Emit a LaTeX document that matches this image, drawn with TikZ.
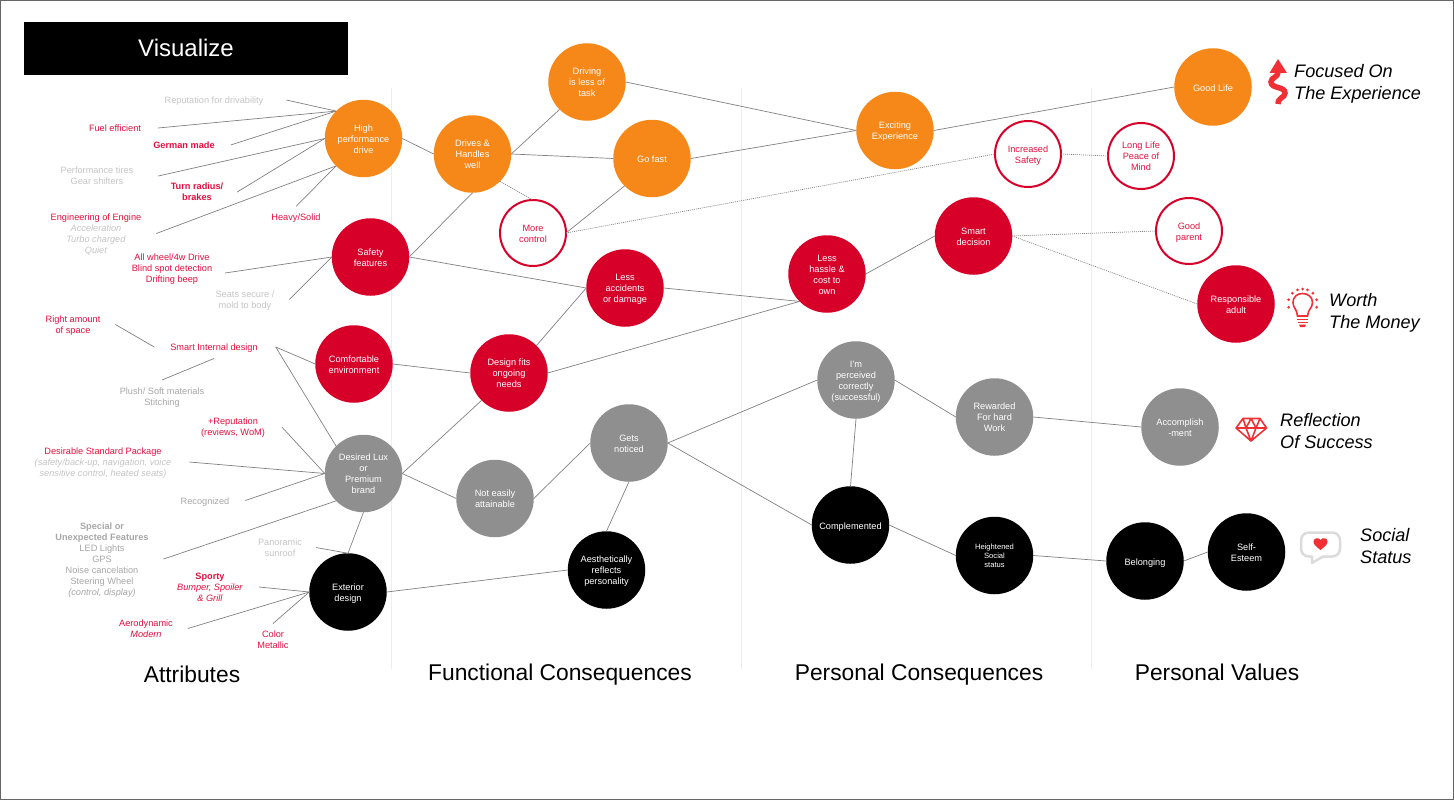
\documentclass[tikz,border=0pt]{standalone}
\usepackage{fontspec}
\setmainfont{Liberation Sans}
\usetikzlibrary{positioning}

\definecolor{cOrange}{HTML}{F58818}
\definecolor{cRed}{HTML}{D70029}
\definecolor{cGrey}{HTML}{8F8F8F}
\definecolor{cPale}{HTML}{C4C4C4}
\definecolor{cMid}{HTML}{A6A6A6}
\definecolor{cLabel}{HTML}{E0103C}
\definecolor{cIcon}{HTML}{F03034}
\definecolor{cLine}{HTML}{808080}

\newsavebox{\nudgebox}

\begin{document}
\begin{tikzpicture}[
    x=1pt, y=-1pt, auto=false,
    nudge/.style={execute at begin node={\setbox\nudgebox=\hbox\bgroup\strut},
        execute at end node={\strut\egroup\raisebox{-#1}[\ht\nudgebox][\dp\nudgebox]{\copy\nudgebox}}},
    bubble/.style={circle, minimum size=77.5pt, inner sep=0pt, outer sep=0pt, align=center, text=white,
        font=\fontsize{9.2}{11}\selectfont, nudge=2pt},
    orangeb/.style={bubble, fill=cOrange},
    redb/.style={bubble, fill=cRed},
    greyb/.style={bubble, fill=cGrey},
    blackb/.style={bubble, fill=black},
    ringb/.style={bubble, minimum size=66pt, fill=white, draw=cRed, line width=2pt, text=cLabel},
    item/.style={align=center, inner sep=0pt, outer sep=0pt, font=\fontsize{9.2}{11}\selectfont, nudge=1.5pt},
    itemred/.style={item, text=cLabel},
    itempale/.style={item, text=cPale},
    itemmid/.style={item, text=cMid},
    title/.style={inner sep=0pt, anchor=base, font=\fontsize{22.8}{26}\selectfont},
    motto/.style={inner sep=0pt, align=left, anchor=west, font=\fontsize{18.1}{22}\selectfont\itshape},
    link/.style={draw=cLine, line width=0.7pt},
    dotlink/.style={draw=cLine, line width=0.7pt, dash pattern=on 1pt off 1pt},
    column/.style={draw=black!7, line width=1pt},
    icon/.style={draw=cIcon, line width=1.6pt}
]
    \useasboundingbox (0,0) rectangle (1454,800);
    \draw[draw=black!60, line width=1pt] (0.5,0.5) rectangle (1453.5,799.5);

    % Columns
    \draw[column] (391,88) -- (391,669);
    \draw[column] (741,88) -- (741,669);
    \draw[column] (1091,88) -- (1091,669);

    % Header
    \node[fill=black, text=white, minimum width=324pt, minimum height=53pt, inner sep=0pt,
        font=\fontsize{24}{26}\selectfont] (header) at (186,48.5) {\raisebox{2pt}{Visualize}};

    % Nodes
    \node[orangeb] (drive) at (363.5,138.5) {High\\performance\\drive};
    \node[redb] (safety) at (370.5,257) {Safety\\features};
    \node[redb] (comfort) at (354,364) {Comfortable\\environment};
    \node[greyb] (lux) at (363.5,473.5) {Desired Lux\\or\\Premium\\brand};
    \node[blackb] (exterior) at (348,592) {Exterior\\design};

    \node[orangeb] (handles) at (472.5,154) {Drives \&\\Handles\\well};
    \node[orangeb] (task) at (587,82) {Driving\\is less of\\task};
    \node[orangeb] (fast) at (652,158.5) {Go fast};
    \node[ringb] (control) at (533,233) {More\\control};
    \node[redb] (accidents) at (625,288) {Less\\accidents\\or damage};
    \node[redb] (needs) at (509,373) {Design fits\\ongoing\\needs};
    \node[greyb] (noticed) at (629,443) {Gets\\noticed};
    \node[greyb] (attain) at (495,498.5) {Not easily\\attainable};
    \node[blackb] (reflects) at (606.5,570) {Aesthetically\\reflects\\personality};

    \node[orangeb] (exciting) at (895,130.5) {Exciting\\Experience};
    \node[ringb] (incsafety) at (1028,154) {Increased\\Safety};
    \node[redb] (hassle) at (827,274) {Less\\hassle \&\\cost to\\own};
    \node[redb] (smart) at (973.5,236) {Smart\\decision};
    \node[greyb] (perceived) at (856,380) {I'm\\perceived\\correctly\\(successful)};
    \node[greyb] (rewarded) at (994.5,417) {Rewarded\\For hard\\Work};
    \node[blackb] (complemented) at (850.5,525) {Complemented};
    \node[blackb, font=\fontsize{7.6}{9}\selectfont] (status) at (994.5,555.5) {Heightened\\Social\\status};

    \node[orangeb] (goodlife) at (1213,87) {Good Life};
    \node[ringb] (peace) at (1141,156) {Long Life\\Peace of\\Mind};
    \node[ringb] (parent) at (1189,231) {Good\\parent};
    \node[redb] (adult) at (1236,304) {Responsible\\adult};
    \node[greyb] (accomplish) at (1180,427) {Accomplish\\-ment};
    \node[blackb] (belonging) at (1145,561) {Belonging};
    \node[blackb] (esteem) at (1246.5,552) {Self-\\Esteem};

    % Attributes
    \node[itempale] (reputation) at (214,100) {Reputation for drivability};
    \node[itemred] (fuel) at (115,128) {Fuel efficient};
    \node[itemred, font=\fontsize{9.2}{11}\selectfont\bfseries] (german) at (184,145) {German made};
    \node[itempale] (tires) at (97,176) {Performance tires\\Gear shifters};
    \node[itemred, font=\fontsize{9.2}{11}\selectfont\bfseries] (radius) at (197,192) {Turn radius/\\brakes};
    \node[itemred] (heavy) at (296,217) {Heavy/Solid};
    \node[itempale] (engine) at (96,233.5) {\textcolor{cLabel}{Engineering of Engine}\\\textit{Acceleration}\\\textit{Turbo charged}\\\textit{Quiet}};
    \node[itemred] (wheel) at (172,268) {All wheel/4w Drive\\Blind spot detection\\Drifting beep};
    \node[itempale] (seats) at (245,299.5) {Seats secure /\\mold to body};
    \node[itemred] (space) at (73,324.5) {Right amount\\of space};
    \node[itemred] (internal) at (214,347) {Smart Internal design};
    \node[itemmid] (plush) at (162,396.5) {Plush/ Soft materials\\Stitching};
    \node[itemred] (wom) at (233,427) {+Reputation\\(reviews, WoM)};
    \node[itempale] (package) at (103,462) {\textcolor{cLabel}{Desirable Standard Package}\\\textit{(safety/back-up, navigation, voice}\\\textit{sensitive control, heated seats)}};
    \node[itemmid] (recognized) at (205,500.5) {Recognized};
    \node[itemmid] (special) at (102,559) {\textbf{Special or}\\\textbf{Unexpected Features}\\LED Lights\\GPS\\Noise cancelation\\Steering Wheel\\\textit{(control, display)}};
    \node[itempale] (sunroof) at (280,547.5) {Panoramic\\sunroof};
    \node[itemred] (sporty) at (210,587) {\textbf{Sporty}\\\textit{Bumper, Spoiler}\\\textit{\& Grill}};
    \node[itemred] (aero) at (146,628.5) {Aerodynamic\\\textit{Modern}};
    \node[itemred] (metallic) at (273,640) {Color\\Metallic};

    % Column titles
    \node[title] (attributes) at (192,682) {Attributes};
    \node[title] (functional) at (560,680) {Functional Consequences};
    \node[title] (personal) at (919,680) {Personal Consequences};
    \node[title] (values) at (1217,680) {Personal Values};

    % Attribute links
    \path[link] ([xshift=23pt]reputation.east) edge (drive.135)
        ([xshift=17pt]fuel.east) edge (drive.135)
        ([xshift=16pt]german.east) edge (drive.135)
        ([xshift=25pt]tires.east) edge (drive.west)
        ([xshift=14pt]radius.east) edge (drive.west)
        ([yshift=5pt]heavy.north) edge (drive.-135)
        ([xshift=15pt]engine.east) edge (drive.-135)
        ([xshift=13pt,yshift=-5pt]wheel.east) edge (safety.west)
        ([xshift=15pt]seats.east) edge (safety.west)
        ([xshift=15pt]space.east) edge ([xshift=-16pt]internal.west)
        ([xshift=18pt]internal.east) edge (comfort.west)
        ([xshift=18pt]internal.east) edge (lux.135)
        ([yshift=6pt]plush.north) edge ([yshift=-6pt]internal.south)
        ([xshift=17pt]wom.east) edge (lux.west)
        ([xshift=18pt]package.east) edge (lux.west)
        ([xshift=16pt]recognized.east) edge (lux.west)
        ([xshift=15pt]special.east) edge (lux.-135)
        ([xshift=14pt]sunroof.east) edge (exterior.north)
        ([xshift=16pt]sporty.east) edge (exterior.west)
        ([xshift=15pt]aero.east) edge (exterior.west)
        ([yshift=6pt]metallic.north) edge (exterior.west);

    % Consequence links
    \path[link] (drive.east) edge (handles.west)
        (handles.east) edge (task.-135)
        (handles.east) edge (fast.west)
        (handles.south) edge (safety.east)
        (control.east) edge (fast.-135)
        (task.east) edge (exciting.west)
        (fast.east) edge (exciting.west)
        (exciting.east) edge (goodlife.west)
        (safety.east) edge (accidents.west)
        (accidents.east) edge (hassle.-135)
        (comfort.east) edge (needs.west)
        (needs.45) edge (accidents.west)
        (needs.east) edge (hassle.-135)
        (hassle.east) edge (smart.west)
        (lux.east) edge (needs.-135)
        (lux.east) edge (attain.west)
        (lux.south) edge (exterior.north)
        (attain.east) edge (noticed.west)
        (reflects.north) edge (noticed.south)
        (exterior.east) edge (reflects.west)
        (noticed.east) edge (perceived.west)
        (noticed.east) edge (complemented.west)
        (perceived.south) edge (complemented.north)
        (perceived.east) edge (rewarded.west)
        (rewarded.east) edge (accomplish.west)
        (complemented.east) edge (status.west)
        (status.east) edge (belonging.west)
        (belonging.east) edge (esteem.west);

    % Dotted links
    \path[dotlink] (handles.-45) edge (control.north)
        (control.east) edge (incsafety.west)
        (incsafety.east) edge (peace.west)
        (smart.east) edge (parent.west)
        (smart.east) edge (adult.west);

    % Value mottos
    \node[motto] (focused) at (1294,84) {Focused On\\The Experience};
    \node[motto] (money) at (1329,312.5) {Worth\\The Money};
    \node[motto] (success) at (1280,431) {Reflection\\Of Success};
    \node[motto] (social) at (1360,546) {Social\\Status};

    % Arrow icon
    \fill[cIcon] (1278,59) -- (1287,73) -- (1269.5,73) -- cycle;
    \draw[cIcon, line width=5.5pt] (1278,72) .. controls (1278,78) and (1271,77) .. (1271,82)
        .. controls (1271,89) and (1285,86) .. (1285,93) .. controls (1285,98) and (1278,97) .. (1278,104);

    % Bulb icon
    \draw[icon] (1297.5,316) .. controls (1297,309) and (1293,308) .. (1293,302.5)
        .. controls (1293,297) and (1297,293.5) .. (1302.5,293.5)
        .. controls (1308,293.5) and (1312.5,297) .. (1312.5,302.5)
        .. controls (1312.5,308) and (1308,309) .. (1307.5,316) -- cycle;
    \draw[icon] (1297,319.5) -- (1308,319.5) (1297.5,322.5) -- (1307.5,322.5);
    \fill[cIcon] (1299,324.5) -- (1306,324.5) -- (1305,327) -- (1300,327) -- cycle;
    \foreach \a in {-15,15,45,70,90,110,135,165,195} {
        \fill[cIcon] (1302.5,303.5) ++(\a:14.5 and -14.5) circle (1.5);
    }

    % Diamond icon
    \draw[icon, line join=round] (1243,418.5) -- (1260,418.5) -- (1266.5,428) -- (1251,441) -- (1236,428) -- cycle
        (1236,428) -- (1266.5,428) (1236,428) -- (1243,418.5) -- (1246,428) -- (1251,441) -- (1256,428) -- (1260,418.5)
        (1246,428) -- (1251,418.5) -- (1256,428);

    % Bubble icon
    \draw[draw=black!14, line width=2.5pt, line join=round, fill=white]
        (1309,532.5) -- (1332,532.5) .. controls (1337,532.5) and (1340,536) .. (1340,541)
        -- (1340,548) .. controls (1340,553) and (1337,556.5) .. (1332,556.5) -- (1323,556.5) -- (1312,563)
        -- (1312,556.5) -- (1309,556.5) .. controls (1304,556.5) and (1301,553) .. (1301,548)
        -- (1301,541) .. controls (1301,536) and (1304,532.5) .. (1309,532.5) -- cycle;
    \fill[cIcon] (1320.5,550) .. controls (1316,546.5) and (1313.5,544.5) .. (1313.5,541.5)
        .. controls (1313.5,538) and (1318.5,537) .. (1320.5,540)
        .. controls (1322.5,537) and (1327.5,538) .. (1327.5,541.5)
        .. controls (1327.5,544.5) and (1325,546.5) .. (1320.5,550) -- cycle;
\end{tikzpicture}
\end{document}
